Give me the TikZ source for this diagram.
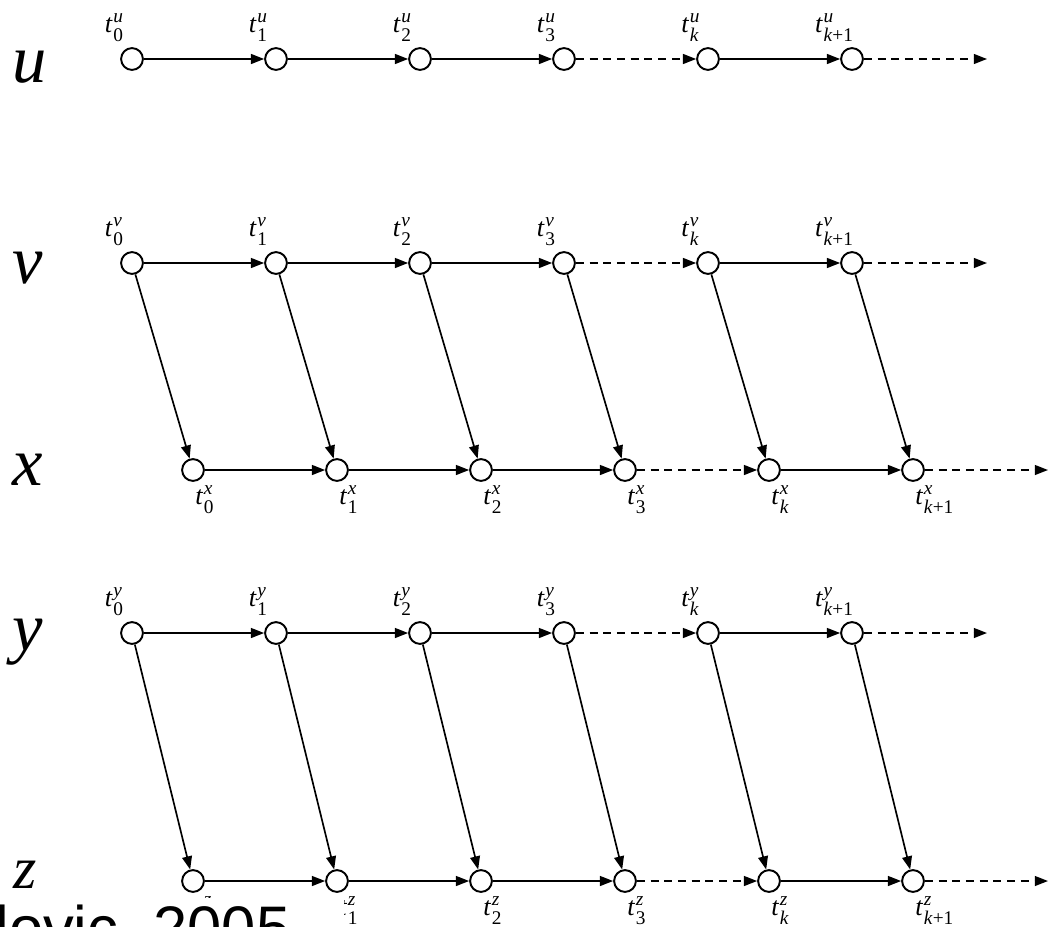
\documentclass[tikz,border=0pt]{standalone}
\usepackage{fontspec}
\setmainfont{Liberation Serif}
\newfontfamily\capfont{Liberation Sans}
\usetikzlibrary{arrows.meta}
\newcommand\tlab[2]{\textit{t}\kern0.4pt\makebox[0pt][l]{\raisebox{6pt}{\fontsize{11}{11}\selectfont\textit{#1}}}\raisebox{-5pt}{\fontsize{11}{11}\selectfont #2}}
\tikzset{
 dot/.style={circle, draw, line width=1.1pt, fill=white, minimum size=12.4pt, inner sep=0pt},
 arr/.style={line width=0.95pt, -{Triangle[length=7.5pt,width=5.6pt]}},
 dsh/.style={dash pattern=on 4.6pt off 3.2pt},
 big/.style={font=\fontsize{39}{39}\selectfont\itshape, inner sep=0pt, anchor=base west},
 lab/.style={font=\fontsize{15}{15}\selectfont, inner sep=0pt},
}
\begin{document}
\begin{tikzpicture}[x=0.02cm,y=-0.02cm]
\useasboundingbox (0,0) rectangle (1050,926);
% row letters
\node[big] (Lu) at (12,83) {u};
\node[big] (Lv) at (12,283) {v};
\node[big] (Lx) at (12,485) {x};
\node[big] (Ly) at (12,650) {y};
\node[big, font=\fontsize{34}{34}\selectfont\itshape] (Lz) at (13,888) {z};
% nodes
\foreach \i/\xx/\s in {0/132/0,1/276/1,2/420/2,3/564/3,4/708/\textit{k},5/852/\textit{k}+1} {
  \node[dot] (u\i) at (\xx,59) {};
  \node[dot] (v\i) at (\xx,263) {};
  \node[dot] (y\i) at (\xx,633) {};
  \path (u\i) ++(-18,-17) node[lab, anchor=south] (tu\i) {\tlab{u}{\s}};
  \path (v\i) ++(-18,-17) node[lab, anchor=south] (tv\i) {\tlab{v}{\s}};
  \path (y\i) ++(-18,-17) node[lab, anchor=south] (ty\i) {\tlab{y}{\s}};
}
\foreach \i/\xx/\s in {0/193/0,1/337/1,2/481/2,3/625/3,4/769/\textit{k},5/913/\textit{k}+1} {
  \node[dot] (x\i) at (\xx,470) {};
  \node[dot] (z\i) at (\xx,881) {};
  \path (x\i) ++(2,15) node[lab, anchor=north west] (tx\i) {\tlab{x}{\s}};
  \path (z\i) ++(2,15) node[lab, anchor=north west] (tz\i) {\tlab{z}{\s}};
}
\coordinate (ue) at (987,59);
\coordinate (ve) at (987,263);
\coordinate (ye) at (987,633);
\coordinate (xe) at (1048,470);
\coordinate (ze) at (1048,881);
% horizontal connectors
\foreach \r in {u,v,x,y,z} {
  \draw[arr] (\r0) -- (\r1);
  \draw[arr] (\r1) -- (\r2);
  \draw[arr] (\r2) -- (\r3);
  \draw[arr,dsh] (\r3) -- (\r4);
  \draw[arr] (\r4) -- (\r5);
  \draw[arr,dsh] (\r5) -- (\r e);
}
% diagonal connectors
\foreach \i in {0,...,5} {
  \draw[arr] (v\i) -- (x\i);
  \draw[arr] (y\i) -- (z\i);
}
% caption box
\fill[white] (-10,898) rectangle (344,980);
\node[anchor=base west, inner sep=0pt, font=\capfont\fontsize{35}{35}\selectfont] (cap) at (-5,949) {lovic\hspace{20pt}2005};
\end{tikzpicture}
\end{document}
